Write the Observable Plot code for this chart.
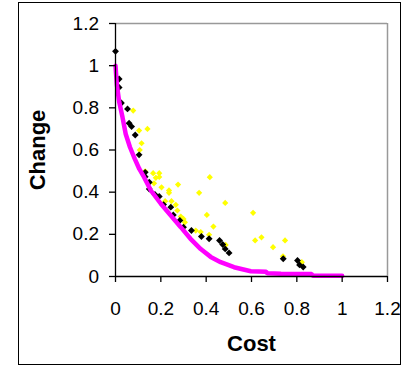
<!DOCTYPE html>
<html>
<head>
<meta charset="utf-8">
<script src="https://cdn.jsdelivr.net/npm/d3@7"></script>
<script src="https://cdn.jsdelivr.net/npm/@observablehq/plot@0.6"></script>
<style>
  html, body { margin: 0; padding: 0; background: #fff; }
  #wrap { position: relative; width: 409px; height: 371px; }
  #box { position: absolute; left: 18px; top: 2px; width: 383px; height: 363px; border: 1.3px solid #000; box-sizing: border-box; pointer-events: none; }
</style>
</head>
<body>
<div id="wrap"><div id="box"></div></div>
<script>
const xTicks = [0, 0.2, 0.4, 0.6, 0.8, 1, 1.2];
const yTicks = [0, 0.2, 0.4, 0.6, 0.8, 1, 1.2];
const xLabel = "Cost";
const yLabel = "Change";

const magentaX = [0, 0.006, 0.016, 0.031, 0.045, 0.064, 0.085, 0.105, 0.126, 0.156, 0.2, 0.244, 0.288, 0.33, 0.376, 0.42, 0.464, 0.523, 0.597, 0.665, 0.67, 0.73, 0.865, 0.87, 1.0];
const magentaY = [1.0, 0.91, 0.83, 0.755, 0.676, 0.613, 0.558, 0.51, 0.471, 0.408, 0.345, 0.289, 0.234, 0.18, 0.13, 0.093, 0.068, 0.044, 0.025, 0.022, 0.015, 0.013, 0.012, 0.004, 0.003];

const blackX = [0, 0.016, 0.016, 0.026, 0.053, 0.060, 0.071, 0.087, 0.104, 0.131, 0.131, 0.149, 0.149, 0.174, 0.193, 0.212, 0.244, 0.255, 0.284, 0.300, 0.335, 0.379, 0.413, 0.459, 0.473, 0.484, 0.501, 0.740, 0.803, 0.812, 0.828];
const blackY = [1.068, 0.937, 0.897, 0.823, 0.795, 0.727, 0.711, 0.671, 0.577, 0.494, 0.473, 0.447, 0.415, 0.389, 0.380, 0.341, 0.329, 0.292, 0.266, 0.234, 0.218, 0.190, 0.179, 0.171, 0.152, 0.131, 0.112, 0.084, 0.076, 0.055, 0.045];

const yellowX = [0.078, 0.104, 0.141, 0.115, 0.107, 0.131, 0.166, 0.193, 0.178, 0.193, 0.170, 0.203, 0.276, 0.236, 0.236, 0.219, 0.247, 0.266, 0.273, 0.288, 0.300, 0.306, 0.354, 0.376, 0.369, 0.416, 0.403, 0.432, 0.413, 0.484, 0.486, 0.607, 0.616, 0.644, 0.695, 0.748, 0.739, 0.822];
const yellowY = [0.787, 0.692, 0.700, 0.632, 0.600, 0.499, 0.490, 0.490, 0.468, 0.472, 0.442, 0.423, 0.436, 0.408, 0.397, 0.357, 0.357, 0.340, 0.313, 0.284, 0.273, 0.257, 0.218, 0.211, 0.397, 0.471, 0.292, 0.237, 0.198, 0.349, 0.150, 0.302, 0.171, 0.186, 0.139, 0.171, 0.096, 0.068];

const magenta = magentaX.map((x, i) => ({x, y: magentaY[i]}));
const black = blackX.map((x, i) => ({x, y: blackY[i]}));
const yellow = yellowX.map((x, i) => ({x, y: yellowY[i]}));

const fmt = d3.format("~g");
const FONT = "'Liberation Sans', Arial, sans-serif";

const chart = Plot.plot({
  width: 409,
  height: 371,
  marginLeft: 115,
  marginRight: 22,
  marginTop: 23,
  marginBottom: 95,
  style: { fontFamily: FONT, fontSize: "19px", color: "#000", background: "transparent", overflow: "visible" },
  x: { domain: [0, 1.2], axis: null },
  y: { domain: [0, 1.2], axis: null },
  marks: [
    Plot.ruleY([1.2], { stroke: "#999", strokeWidth: 1.5 }),
    Plot.ruleX([1.2], { stroke: "#999", strokeWidth: 1.5 }),
    Plot.dot(yellow, { x: "x", y: "y", symbol: "diamond2", r: 2.8, fill: "#ffff00", stroke: "none" }),
    Plot.dot(black, { x: "x", y: "y", symbol: "diamond2", r: 3.1, fill: "#000", stroke: "none" }),
    Plot.line(magenta, { x: "x", y: "y", stroke: "#ff00ff", strokeWidth: 4.5, strokeLinejoin: "miter", curve: "linear" }),
    Plot.ruleX([0], { stroke: "#000", strokeWidth: 1.3 }),
    Plot.ruleY([0], { stroke: "#000", strokeWidth: 1.3 }),
    Plot.axisX({ ticks: xTicks, tickSize: 6, tickFormat: () => "", label: null, stroke: "#000", strokeWidth: 1.3 }),
    Plot.axisY({ ticks: yTicks, tickSize: 6, tickFormat: () => "", label: null, stroke: "#000", strokeWidth: 1.3 }),
    Plot.text(xTicks, { ariaLabel: "wide-x", x: d => d, text: d => fmt(d), frameAnchor: "bottom", dy: 25, lineAnchor: "top", textAnchor: "middle", fontSize: 19, fontFamily: FONT, fill: "#000" }),
    Plot.text(yTicks, { ariaLabel: "wide-y", y: d => d, text: d => fmt(d), frameAnchor: "left", dx: -16.5, lineAnchor: "middle", textAnchor: "end", fontSize: 19, fontFamily: FONT, fill: "#000" }),
    Plot.text([xLabel], { ariaLabel: "wide-cost", text: d => d, frameAnchor: "bottom", dy: 67, lineAnchor: "middle", fontWeight: "bold", fontSize: 22, fontFamily: FONT, fill: "#000" }),
    Plot.text([yLabel], { text: d => d, frameAnchor: "left", dx: -78, rotate: -90, textAnchor: "middle", lineAnchor: "middle", fontWeight: "bold", fontSize: 22, fontFamily: FONT, fill: "#000" })
  ]
});

// widen glyphs horizontally about their anchor point, as in the reference rendering
const stretch = { "wide-x": 1.2, "wide-y": 1.2, "wide-cost": 1.04 };
Object.entries(stretch).forEach(([label, s]) => {
  chart.querySelectorAll(`g[aria-label="${label}"] text`).forEach(t => {
    const tr = t.getAttribute("transform") || "";
    const x = +(t.getAttribute("x") || 0), y = +(t.getAttribute("y") || 0);
    t.setAttribute("transform", `${tr} translate(${x},${y}) scale(${s},1) translate(${-x},${-y})`);
  });
});

document.getElementById("wrap").prepend(chart);
</script>
</body>
</html>
